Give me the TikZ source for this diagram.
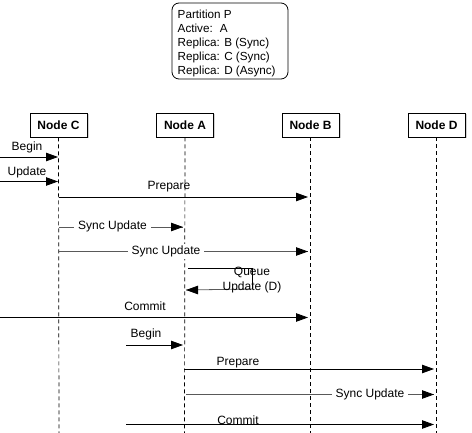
\documentclass[tikz,border=0pt]{standalone}
\usepackage{fontspec}
\setmainfont{Liberation Sans}
\usetikzlibrary{arrows.meta,shadows}
\begin{document}
\begin{tikzpicture}[x=1pt,y=-1pt,
  every node/.style={font=\fontsize{12}{14}\selectfont, inner sep=1pt},
  actor/.style={draw=black, fill=white, line width=0.8pt, minimum width=57pt, minimum height=24pt, inner sep=0pt,
    font=\fontsize{12}{14}\selectfont\bfseries,
    drop shadow={shadow xshift=1.5pt, shadow yshift=-1.5pt, opacity=0.35, fill=gray}},
  lifeline/.style={draw=black, line width=0.7pt, dash pattern=on 4pt off 3pt},
  msg/.style={draw=black, line width=0.8pt, -{Triangle[length=12pt,width=8.5pt]}},
  gmsg/.style={draw=black!65, line width=0.8pt},
  ghead/.style={draw=black, line width=0.8pt, -{Triangle[length=12pt,width=8.5pt]}},
  lbl/.style={fill=white, inner xsep=4pt, inner ysep=2pt},
  plain/.style={inner sep=0pt}
]
\useasboundingbox (0,0) rectangle (472,433);

% partition box
\node[draw=black, line width=0.8pt, rounded corners=7pt, minimum width=116pt, minimum height=76pt,
  inner sep=0pt] (part) at (230,41) {};
\node[anchor=west, align=left, inner sep=0pt, font=\fontsize{11.7}{14}\selectfont] (ptext) at (177.5,43.5)
  {Partition P\\Active:\hspace{7pt}A\\Replica: B (Sync)\\Replica: C (Sync)\\Replica: D (Async)};

% actors
\node[actor] (nC) at (58.5,125) {Node C};
\node[actor] (nA) at (185,125) {Node A};
\node[actor] (nB) at (310.5,125) {Node B};
\node[actor] (nD) at (436.5,125) {Node D};

% lifeline ends
\coordinate (eC) at (59,433);
\coordinate (eA) at (184.5,433);
\coordinate (eB) at (310.5,433);
\coordinate (eD) at (436.5,433);
\draw[lifeline] (nC.south) -- (eC);
\draw[lifeline] (nA.south) -- (eA);
\draw[lifeline] (nB.south) -- (eB);
\draw[lifeline] (nD.south) -- (eD);

% message coordinates
\coordinate (b1s) at (0,157);   \coordinate (b1e) at (58,157);
\coordinate (u1s) at (0,181.5); \coordinate (u1e) at (58,181.5);
\coordinate (p1s) at (59,197);  \coordinate (p1e) at (308,197);
\coordinate (s1s) at (59,227);  \coordinate (s1e) at (183,227);
\coordinate (s2s) at (59,251.5);\coordinate (s2e) at (308,251.5);
\coordinate (q1) at (188,268);  \coordinate (q2) at (252,268);
\coordinate (q3) at (252,289);  \coordinate (q4) at (186,290);
\coordinate (c1s) at (0,317.5); \coordinate (c1e) at (308,317.5);
\coordinate (b2s) at (126,345); \coordinate (b2e) at (183,345);
\coordinate (p2s) at (184,369); \coordinate (p2e) at (434,369);
\coordinate (s3s) at (186,394.5); \coordinate (s3e) at (434,394.5);
\coordinate (c3s) at (126,424.5); \coordinate (c3e) at (434,424.5);

% messages
\draw[msg] (b1s) -- (b1e);
\node[plain] (lb1) at (27,147) {Begin};
\draw[msg] (u1s) -- (u1e);
\node[plain] (lu1) at (27,172) {Update};
\draw[msg] (p1s) -- (p1e);
\node[plain] (lp1) at (169,187) {Prepare};

\draw[gmsg] (s1s) -- (s1e);
\draw[ghead] ([xshift=-2pt]s1e) -- (s1e);
\node[lbl] (ls1) at (112.5,226.5) {Sync Update};

\draw[gmsg] (s2s) -- (s2e);
\draw[ghead] ([xshift=-2pt]s2e) -- (s2e);
\node[lbl] (ls2) at (166,251.5) {Sync Update};

\draw[draw=black, line width=0.8pt] (q1) -- (q2) -- (q3);
\draw[gmsg] (q3) -- (q4);
\draw[ghead] ([xshift=2pt]q4) -- (q4);
\node[plain, align=center, font=\fontsize{12}{15}\selectfont] (lq) at (252,280.5) {Queue\\Update (D)};

\draw[msg] (c1s) -- (c1e);
\node[plain] (lc1) at (145,306) {Commit};
\draw[msg] (b2s) -- (b2e);
\node[plain] (lb2) at (146,334) {Begin};
\draw[msg] (p2s) -- (p2e);
\node[plain] (lp2) at (238,362.5) {Prepare};

\draw[gmsg] (s3s) -- (s3e);
\draw[ghead] ([xshift=-2pt]s3e) -- (s3e);
\node[lbl] (ls3) at (370,394.5) {Sync Update};

\draw[msg] (c3s) -- (c3e);
\node[plain] (lc3) at (238,420.5) {Commit};
\end{tikzpicture}
\end{document}
